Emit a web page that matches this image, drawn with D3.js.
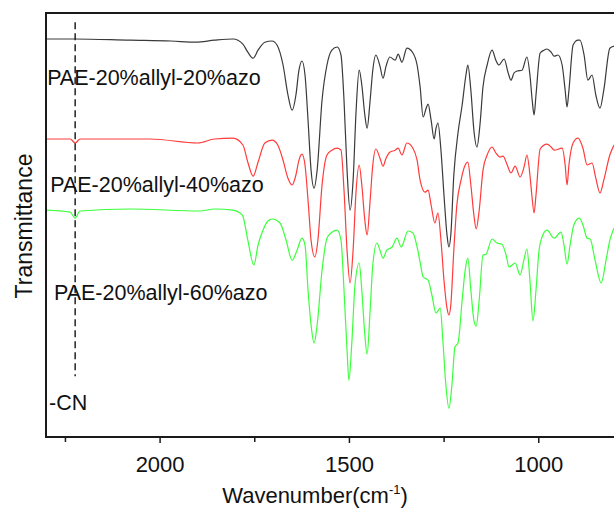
<!DOCTYPE html>
<html>
<head>
<meta charset="utf-8">
<script src="https://cdn.jsdelivr.net/npm/d3@7/dist/d3.min.js"></script>
<style>
  body { margin: 0; background: #fff; }
  svg { display: block; font-family: "Liberation Sans", Arial, Helvetica, sans-serif; }
</style>
</head>
<body>
<div id="graphicContainer"></div>
<script>

// spectra as [wavenumber (cm-1), transmittance (a.u., offset)]
const azo20 = [
  [2300,99.5],[2223,99.5],[2078,99.2],[1970,99],[1904,98.7],[1855,99.2],[1806,99.5],[1780,98.2],[1767,96.2],
  [1753,94.7],[1740,96.7],[1722,98.7],[1703,99],[1690,98],[1674,93],[1661,85.5],[1650,81.7],[1640,85.5],
  [1632,91.7],[1624,94],[1616,90.5],[1608,79.2],[1600,66.7],[1592,62.2],[1584,66.7],[1571,84.2],[1558,93],
  [1545,96.7],[1531,97.5],[1521,95.5],[1513,84.2],[1505,66.7],[1497,56.7],[1489,64.2],[1481,81.7],[1473,91.7],
  [1466,88],[1458,80.5],[1452,77.2],[1444,84.2],[1437,91.7],[1429,95.5],[1418,92.7],[1410,89.7],[1402,92.7],
  [1392,95],[1378,94.2],[1370,95.7],[1360,93.7],[1347,97.2],[1331,96],[1320,93],[1312,87.5],[1304,80],
  [1296,82.2],[1291,83.2],[1283,79.2],[1275,74.5],[1270,77.2],[1265,78.5],[1257,71.7],[1249,60.5],[1241,50.5],
  [1236,47.5],[1231,50.5],[1223,65.5],[1212,76],[1201,83],[1191,90.5],[1186,93],[1178,86.7],[1170,76.7],
  [1162,72.5],[1154,78],[1146,87.5],[1135,93],[1122,96.7],[1112,94.2],[1104,93],[1090,94.5],[1080,91.2],
  [1072,89.2],[1064,91],[1056,91.5],[1043,91.7],[1030,95],[1022,90.5],[1016,84.2],[1011,80.5],[1006,85.5],
  [995,96],[985,96.7],[977,97],[966,96.2],[958,95.2],[948,95.5],[937,93],[929,86.7],[924,82.5],[919,86.7],
  [908,98],[895,99.2],[890,99.2],[879,95.5],[869,89.2],[858,90.5],[848,85.5],[837,82.2],[827,86.7],[811,97.2],
  [800,97.7]
]

const azo40 = [
  [2300,74.5],[2236,74.5],[2223,73.5],[2210,74.5],[2025,74.5],[1899,73.5],[1855,74.5],[1806,74.7],[1780,73],
  [1767,68.7],[1753,65.2],[1740,68.7],[1722,73.5],[1703,74.2],[1688,73],[1674,69.2],[1661,64.7],[1650,63],
  [1640,65.5],[1632,69.2],[1624,70.7],[1616,68],[1608,59.2],[1600,49.2],[1590,45],[1582,49.2],[1571,63],
  [1558,70.5],[1545,71.7],[1531,72.2],[1521,71.7],[1513,61.7],[1505,46.7],[1497,38.5],[1489,46.7],[1481,61.7],
  [1473,68],[1466,63],[1458,54.2],[1452,50.5],[1444,59.2],[1437,68],[1429,72],[1418,69.7],[1410,67.7],
  [1402,69.7],[1392,71.2],[1378,71.7],[1370,72.2],[1360,70.5],[1347,73.5],[1331,72.2],[1320,69.2],[1312,64.2],
  [1299,61.2],[1291,61.7],[1283,58],[1273,53.5],[1265,56],[1257,49.2],[1249,39.2],[1241,32.2],[1236,30.5],
  [1231,33],[1223,46.7],[1215,58],[1204,64.2],[1193,68],[1186,68.7],[1178,63],[1170,55.5],[1164,52],
  [1156,56.7],[1146,66.7],[1135,70.5],[1122,72.5],[1112,71],[1101,70],[1093,70.2],[1082,68],[1072,66],
  [1061,67.7],[1048,65],[1037,67.7],[1030,70.5],[1022,65.5],[1017,60.5],[1011,56],[1006,60.5],[995,72],
  [977,73.2],[966,72.5],[958,71.7],[937,72.2],[929,68],[924,63],[919,68],[908,73.5],[895,74.7],[882,72.2],
  [871,68],[858,68.5],[848,64.7],[837,61],[827,64.2],[811,70.5],[800,73]
]

const azo60 = [
  [2300,56.7],[2236,56.2],[2223,54.7],[2210,56.5],[2078,57],[1893,56.5],[1855,57],[1806,56.7],[1788,56],
  [1780,55.2],[1767,49.2],[1751,43],[1740,48],[1727,51.7],[1714,54],[1703,54.5],[1682,53.5],[1666,49.2],
  [1650,44.2],[1637,46.7],[1624,49.7],[1616,48],[1608,36.7],[1600,28],[1592,23.5],[1584,28],[1571,41.7],
  [1558,49.7],[1545,51.2],[1531,51.7],[1521,49.2],[1513,36.7],[1505,21.7],[1500,14.2],[1492,24.2],[1484,38],
  [1473,43.5],[1466,36.7],[1458,25.5],[1452,20.7],[1444,31.7],[1437,43],[1426,48.5],[1418,46.7],[1410,44.7],
  [1400,46.7],[1386,47.5],[1373,49.7],[1362,47.5],[1344,51.5],[1331,51],[1320,47.5],[1312,43.7],[1304,40],
  [1291,39.2],[1281,35.5],[1270,31],[1259,32.2],[1252,24.2],[1244,13],[1236,7.2],[1228,13],[1220,22.5],
  [1212,23.5],[1201,34.2],[1193,41.7],[1186,44.7],[1178,36.7],[1170,29.2],[1164,27.7],[1156,34.2],[1146,45.5],
  [1138,45.7],[1122,49.5],[1109,48.5],[1096,48.2],[1085,45.5],[1077,42.5],[1061,43.5],[1048,40.5],[1038,44.2],
  [1030,47],[1022,39.2],[1014,29],[1006,36.7],[998,46.7],[990,50],[977,51.7],[958,49.7],[940,51.2],[932,48],
  [924,43.2],[916,48],[906,53],[892,54.7],[882,53],[871,49.7],[863,49.5],[850,44.2],[834,38.5],[821,44.2],
  [811,49.2],[800,52.2]
]

const seriesNames = ["PAE-20%allyl-20%azo", "PAE-20%allyl-40%azo", "PAE-20%allyl-60%azo"]
const seriesColors = ["#3a3a3a", "#ff3b3b", "#3cff3c"]
const majorTicks = [2000, 1500, 1000]
const minorTicks = [2250, 1750, 1250]
const cnBand = 2223

const width = 614
const height = 512
const marginleft = 46
const margintop = 13
const marginbottom = 75

const svg = d3.select("#graphicContainer").append("svg")
  .attr("width", width)
  .attr("height", height)

const x = d3.scaleLinear()
  .domain([2300, 800])
  .range([marginleft, width])

const y = d3.scaleLinear()
  .domain([0, 106])
  .range([height - marginbottom, margintop])

const line = d3.line()
  .x(d => x(d[0]))
  .y(d => y(d[1]))
  .curve(d3.curveMonotoneX)

svg.append("g")
  .selectAll("path")
  .data([azo20, azo40, azo60])
  .enter()
  .append("path")
  .attr("d", line)
  .attr("fill", "none")
  .attr("stroke", (d, i) => seriesColors[i])
  .attr("stroke-width", 1.2)

// -CN marker
svg.append("line")
  .attr("x1", x(cnBand))
  .attr("x2", x(cnBand))
  .attr("y1", y(103.7))
  .attr("y2", y(15.2))
  .attr("stroke", "#222")
  .attr("stroke-width", 1.5)
  .attr("stroke-dasharray", "7,4")

// frame (right side falls outside the crop)
svg.append("path")
  .attr("d", `M${width + 2},${y(106)}H${marginleft}V${y(0)}H${width + 2}`)
  .attr("fill", "none")
  .attr("stroke", "#1a1a1a")
  .attr("stroke-width", 2)

const xAxis = svg.append("g")
  .attr("transform", `translate(0,${y(0)})`)
  .call(d3.axisBottom(x).tickValues(majorTicks).tickSize(6).tickFormat(d3.format("d")))

xAxis.select(".domain").remove()
xAxis.selectAll(".tick line").attr("stroke", "#1a1a1a").attr("stroke-width", 1.5)
xAxis.selectAll(".tick text")
  .attr("y", 35)
  .attr("dy", null)
  .attr("fill", "#111")
  .style("font-size", "22px")
  .style("font-family", "'Liberation Sans', Arial, sans-serif")

const xMinor = svg.append("g")
  .attr("transform", `translate(0,${y(0)})`)
  .call(d3.axisBottom(x).tickValues(minorTicks).tickSize(5).tickFormat(""))

xMinor.select(".domain").remove()
xMinor.selectAll(".tick line").attr("stroke", "#1a1a1a").attr("stroke-width", 1.5)

// series labels
const labelPos = [[2297, 88], [2289, 61.3], [2279, 34.3]]

svg.append("g")
  .selectAll("text")
  .data(seriesNames)
  .enter()
  .append("text")
  .attr("x", (d, i) => x(labelPos[i][0]))
  .attr("y", (d, i) => y(labelPos[i][1]))
  .attr("fill", "#111")
  .style("font-size", "21.5px")
  .text(d => d)

svg.append("text")
  .attr("x", x(2292))
  .attr("y", y(6.8))
  .attr("fill", "#111")
  .style("font-size", "21.5px")
  .text("-CN")

// axis titles
const xTitle = svg.append("text")
  .attr("x", 315)
  .attr("y", 503)
  .attr("text-anchor", "middle")
  .attr("fill", "#111")
  .style("font-size", "22px")

xTitle.append("tspan").text("Wavenumber(cm")
xTitle.append("tspan").attr("dy", -9).style("font-size", "13px").text("-1")
xTitle.append("tspan").attr("dy", 9).text(")")

svg.append("text")
  .attr("transform", `translate(32,226) rotate(-90)`)
  .attr("text-anchor", "middle")
  .attr("fill", "#111")
  .style("font-size", "23px")
  .text("Transmittance")

</script>
</body>
</html>
